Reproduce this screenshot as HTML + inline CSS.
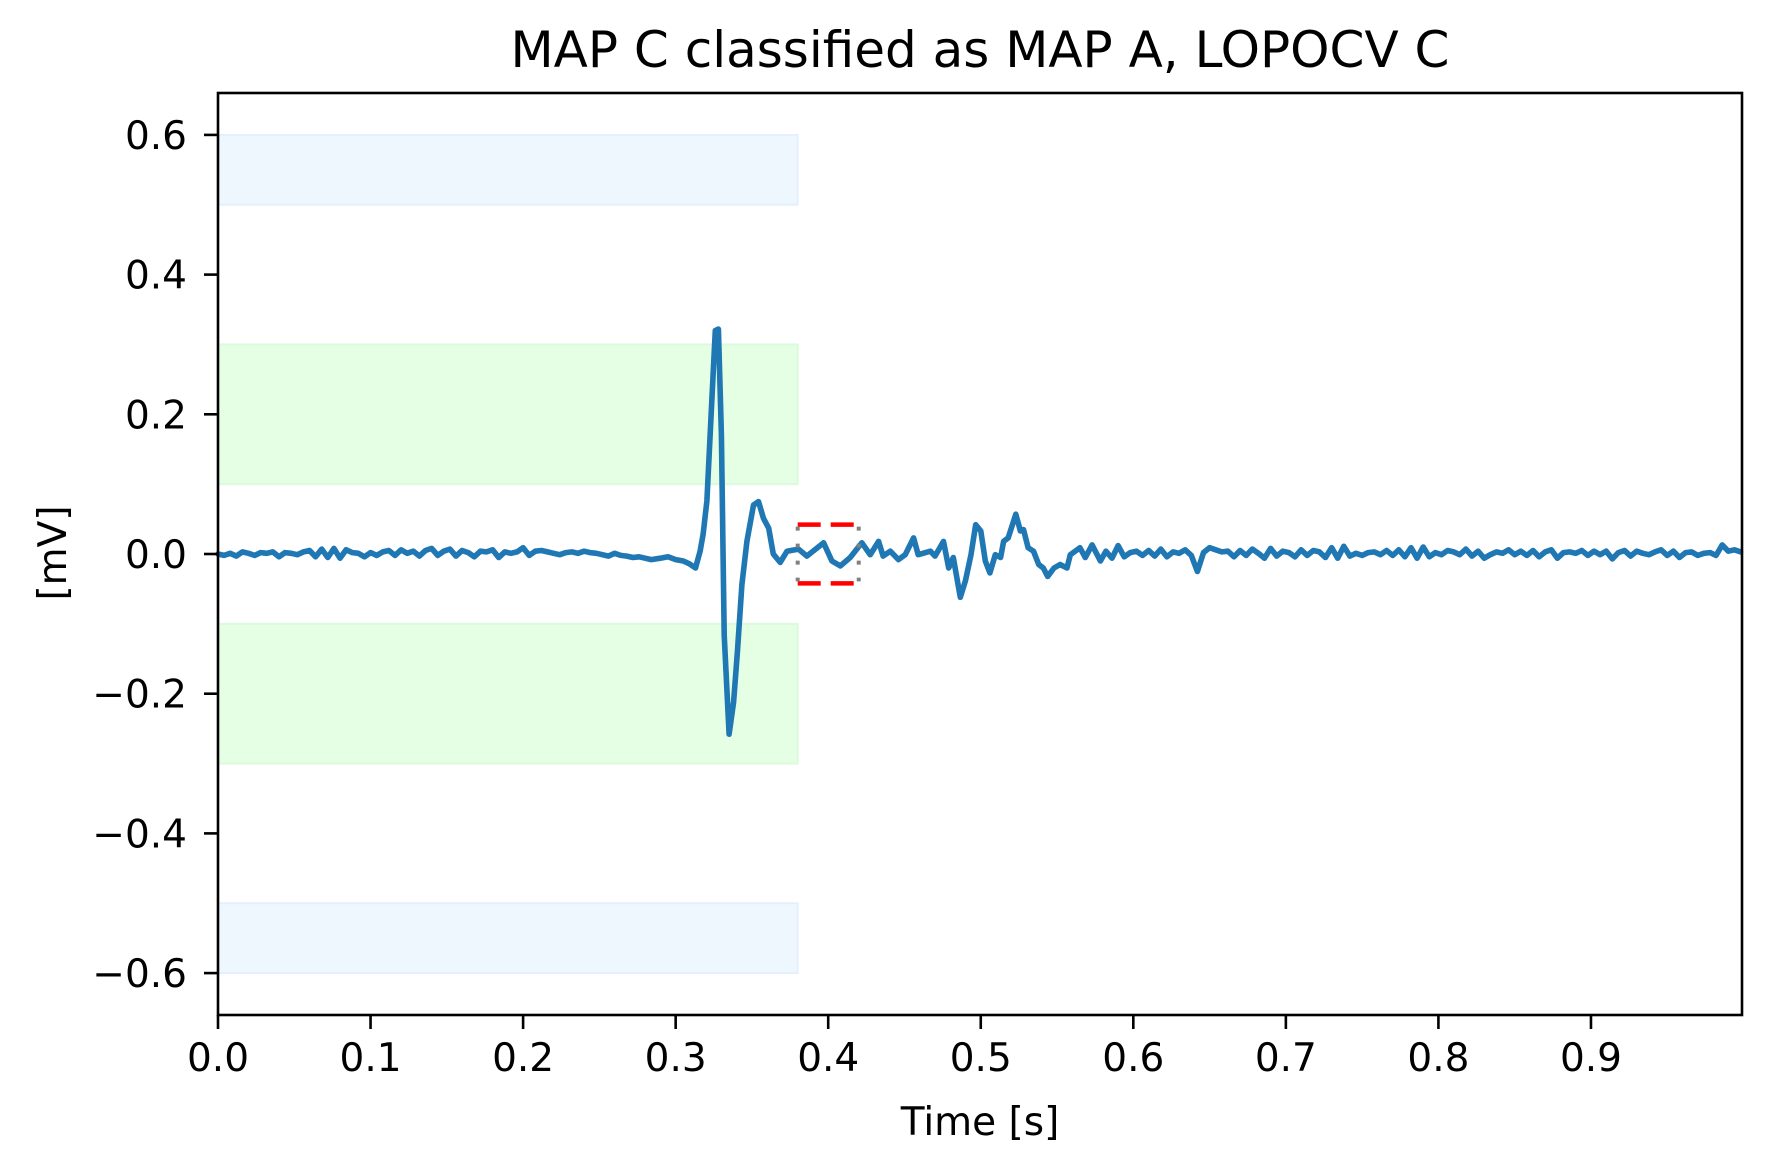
<!DOCTYPE html>
<html><head><meta charset="utf-8">
<style>
html,body{margin:0;padding:0;background:#fff;}
svg{display:block;font-family:"DejaVu Sans","Liberation Sans",sans-serif;}
</style></head>
<body>
<svg id="chart" width="1772" height="1173" xmlns="http://www.w3.org/2000/svg">
<g id="bands"></g>
<g id="marks"></g>
<g id="axes"></g>
<text x="980" y="67" font-size="50" text-anchor="middle">MAP C classified as MAP A, LOPOCV C</text>
<text x="980" y="1135" font-size="39" text-anchor="middle">Time [s]</text>
<text x="0" y="0" font-size="39" text-anchor="middle" transform="translate(66,553) rotate(-90)">[mV]</text>
</svg>
<script>
const xTicks=[0,0.1,0.2,0.3,0.4,0.5,0.6,0.7,0.8,0.9];
const xTickLabels=["0.0","0.1","0.2","0.3","0.4","0.5","0.6","0.7","0.8","0.9"];
const yTicks=[-0.6,-0.4,-0.2,0,0.2,0.4,0.6];
const yTickLabels=["\u22120.6","\u22120.4","\u22120.2","0.0","0.2","0.4","0.6"];
const bandLow=[0.5,0.1,-0.3,-0.6];
const bandHigh=[0.6,0.3,-0.1,-0.5];
const bandKind=["blue","green","green","blue"];
const bandEnd=0.38;
const boxX=[0.38,0.42];
const boxY=[-0.042,0.042];
const base1Start=0, base1Step=0.004;
const base1=[0,-0.002,0.001,-0.003,0.003,0.001,-0.002,0.002,0.001,0.003,-0.004,0.002,0.001,-0.001,0.003,0.005,-0.004,0.007,-0.005,0.008,-0.006,0.006,0.002,0.001,-0.004,0.002,-0.002,0.003,0.005,-0.002,0.006,0.001,0.004,-0.003,0.005,0.008,-0.002,0.004,0.007,-0.003,0.005,0.002,-0.004,0.004,0.003,0.006,-0.005,0.003,0.001,0.003,0.009,-0.002,0.004,0.005,0.003,0.001,-0.001,0.002,0.003,0.001,0.004,0.002,0.001,-0.001,-0.003,0.001,-0.002,-0.003,-0.005,-0.004,-0.006,-0.008];
const qrsT=[0.290,0.295,0.300,0.305,0.309,0.313,0.316,0.318,0.3205,0.3237,0.326,0.328,0.330,0.3318,0.335,0.338,0.3405,0.3434,0.3467,0.351,0.3543,0.3576,0.361,0.364,0.3685,0.373,0.3805,0.386,0.397,0.4024,0.408,0.4144,0.422,0.4275,0.433,0.436,0.4407,0.446,0.4505,0.456,0.459,0.467,0.470,0.4756,0.479,0.482,0.4866,0.490,0.4936,0.4967,0.500,0.503,0.506,0.5095,0.513,0.515,0.518,0.523,0.526,0.528,0.531,0.5346,0.538,0.541,0.5439,0.548,0.552,0.5565,0.5587,0.565,0.5685,0.573,0.5784];
const qrsV=[-0.006,-0.004,-0.008,-0.01,-0.014,-0.02,0.004,0.028,0.076,0.219,0.32,0.322,0.171,-0.116,-0.258,-0.212,-0.14,-0.044,0.018,0.07,0.075,0.051,0.037,0,-0.012,0.004,0.007,-0.003,0.016,-0.01,-0.017,-0.005,0.016,-0.001,0.018,-0.003,0.004,-0.008,-0.001,0.023,-0.001,0.004,-0.003,0.018,-0.02,-0.005,-0.062,-0.038,-0.001,0.042,0.033,-0.01,-0.027,-0.001,-0.005,0.018,0.023,0.057,0.033,0.035,0.009,0.004,-0.015,-0.02,-0.032,-0.02,-0.015,-0.02,-0.001,0.009,-0.005,0.013,-0.01];
const base2Start=0.582, base2Step=0.004;
const base2=[0.004,-0.006,0.012,-0.004,0.002,0.004,-0.002,0.005,-0.003,0.007,-0.004,0.003,0.001,0.006,-0.002,-0.025,0.002,0.009,0.006,0.003,0.004,-0.004,0.005,-0.002,0.007,0.001,-0.006,0.008,-0.003,0.004,0.002,-0.004,0.006,-0.002,0.005,0.003,-0.005,0.009,-0.006,0.011,-0.003,0.001,-0.002,0.002,0.003,-0.001,0.005,-0.002,0.006,-0.004,0.009,-0.006,0.01,-0.004,0.002,-0.001,0.005,0.003,-0.001,0.007,-0.003,0.004,-0.006,-0.001,0.003,0.001,0.006,-0.001,0.004,-0.002,0.005,-0.004,0.003,0.006,-0.006,0.002,0.003,0.001,0.005,-0.002,0.004,-0.001,0.004,-0.007,0.002,0.005,-0.003,0.004,0.001,-0.001,0.003,0.006,-0.002,0.004,-0.005,0.002,0.003,-0.002,0.001,0.002,-0.002,0.013,0.004,0.006,0.003];

const L=218,R=1742,T=93,B=1015;
const xMin=0,xMax=0.999,yMin=-0.66,yMax=0.66;
const sx=v=>L+(v-xMin)/(xMax-xMin)*(R-L);
const sy=v=>B-(v-yMin)/(yMax-yMin)*(B-T);
const NS="http://www.w3.org/2000/svg";
function mk(tag,parent,attrs){const e=document.createElementNS(NS,tag);for(const k in attrs)e.setAttribute(k,attrs[k]);parent.appendChild(e);return e;}

const gb=document.getElementById('bands');
bandLow.forEach((lo,i)=>{
  const fill=bandKind[i]==="blue"?"#eef6fe":"#e5ffe5";
  const stroke=bandKind[i]==="blue"?"#e4f0fc":"#dcfadc";
  const r=mk('rect',gb,{x:sx(0),y:sy(bandHigh[i]),width:sx(bandEnd)-sx(0),height:sy(lo)-sy(bandHigh[i]),fill:fill,stroke:stroke,'stroke-width':2});
  
  
});

const gm=document.getElementById('marks');
const pts=[];
base1.forEach((v,i)=>pts.push([base1Start+i*base1Step,v]));
qrsT.forEach((t,i)=>pts.push([t,qrsV[i]]));
base2.forEach((v,i)=>pts.push([base2Start+i*base2Step,v]));
const d=pts.map((p,i)=>(i?'L':'M')+sx(p[0]).toFixed(1)+','+sy(p[1]).toFixed(1)).join('');
const line=mk('path',gm,{d:d,fill:'none',stroke:'#1f77b4','stroke-width':5.6,'stroke-linejoin':'round','stroke-linecap':'round'});



const bx0=sx(boxX[0]),bx1=sx(boxX[1]),by0=sy(boxY[1]),by1=sy(boxY[0]);
[by0,by1].forEach((y,i)=>{
  const l=mk('line',gm,{x1:bx0,x2:bx1,y1:y,y2:y,stroke:'#ff0000','stroke-width':4.5,'stroke-dasharray':'23 10'});
  
  
});
[bx0,bx1].forEach((x,i)=>{
  const l=mk('line',gm,{x1:x,x2:x,y1:by0+2,y2:by1-2,stroke:'#808080','stroke-width':4,'stroke-dasharray':'4 13'});
  
  
});

const ga=document.getElementById('axes');
const frame=mk('rect',ga,{x:L,y:T,width:R-L,height:B-T,fill:'none',stroke:'#000','stroke-width':2.6});


xTicks.forEach((v,i)=>{
  const x=sx(v);
  const t=mk('line',ga,{x1:x,x2:x,y1:B,y2:B+14,stroke:'#000','stroke-width':2.6});
  
  
  const tx=mk('text',ga,{x:x,y:B+56,'font-size':39,'text-anchor':'middle'});
  tx.textContent=xTickLabels[i];
  
  
});
yTicks.forEach((v,i)=>{
  const y=sy(v);
  const t=mk('line',ga,{x1:L-14,x2:L,y1:y,y2:y,stroke:'#000','stroke-width':2.6});
  
  
  const tx=mk('text',ga,{x:L-31,y:y+14,'font-size':39,'text-anchor':'end'});
  tx.textContent=yTickLabels[i];
  
  
});
</script>
</body></html>
